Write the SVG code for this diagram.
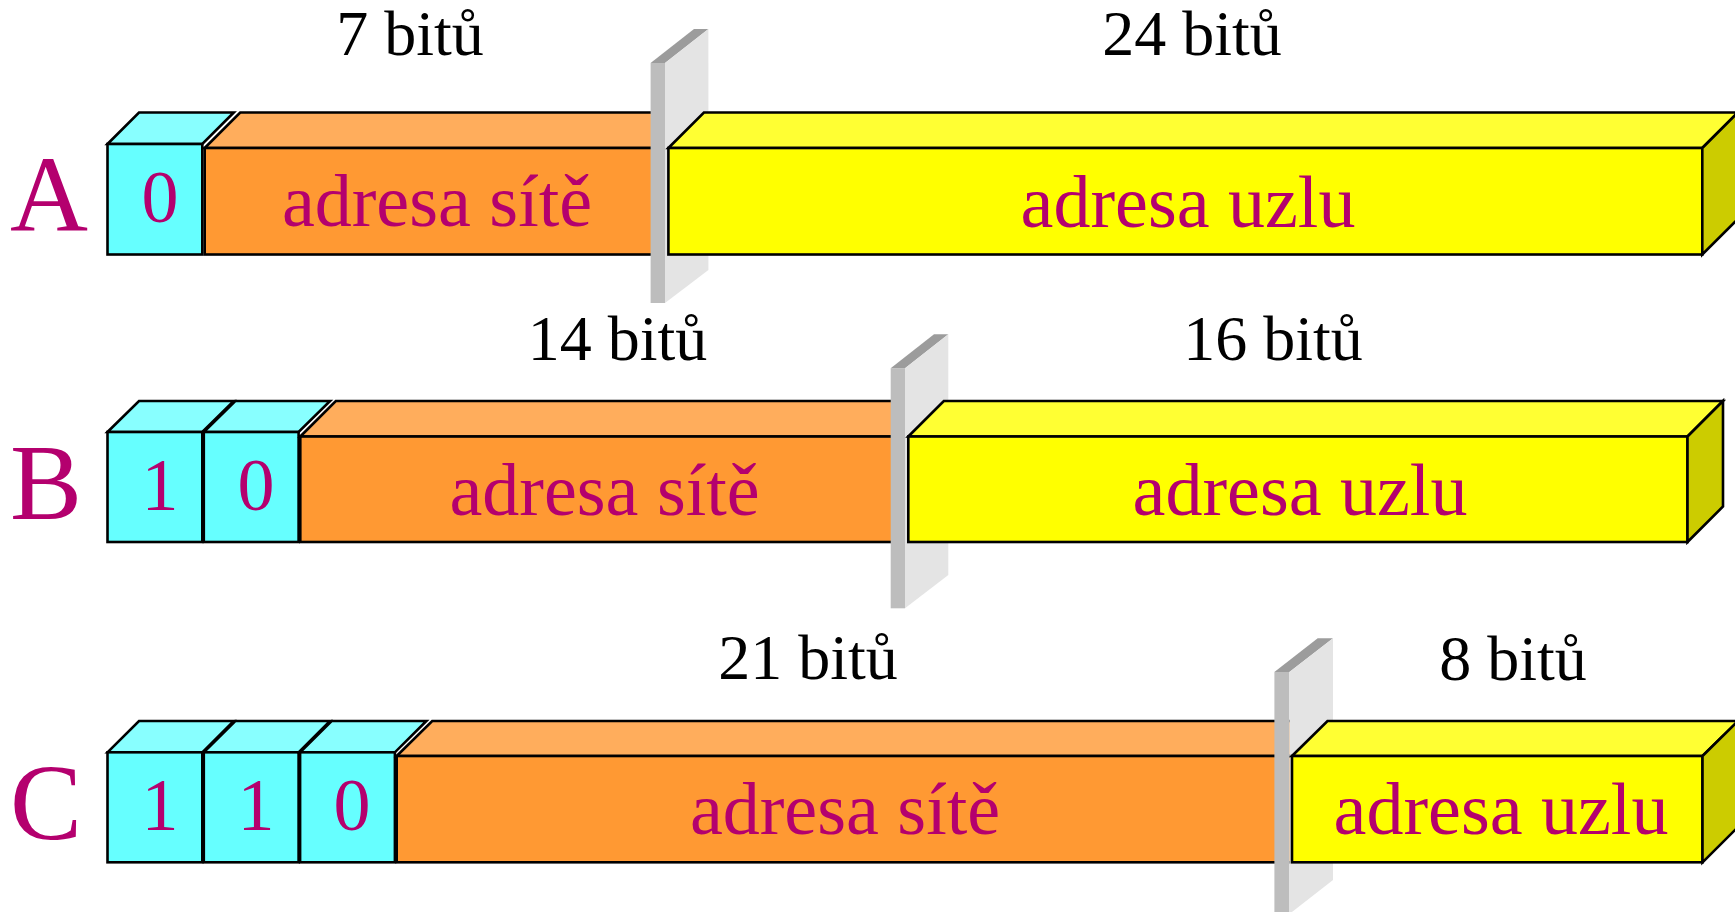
<svg xmlns="http://www.w3.org/2000/svg" width="1735" height="912" viewBox="0 0 1735 912">
<style>
.st{stroke:#000;stroke-width:2.6;stroke-linejoin:miter}
.cf{fill:#66FFFF}.ct{fill:#88FFFF}
.of{fill:#FF9933}.ot{fill:#FFAD5C}
.yf{fill:#FFFF00}.yt{fill:#FFFF33}.ys{fill:#CCCC00}
.bs{fill:#BDBDBD}.bt{fill:#9C9C9C}.bp{fill:#E4E4E4}
.m{font-family:"Liberation Serif","Times New Roman",serif;fill:#B4006E}
.lbl{font-size:108px}
.txt{font-size:74px;text-anchor:middle}
.bits{font-family:"Liberation Serif","Times New Roman",serif;font-size:64px;fill:#000;text-anchor:middle}
</style>
<rect width="1735" height="912" fill="#fff"/>

<g id="rowA">
  <text class="m lbl" x="10" y="231">A</text>
  <text class="bits" x="410" y="55">7 bitů</text>
  <text class="bits" x="1192" y="55">24 bitů</text>
  <g id="A-bit0">
    <polygon class="ct st" points="107.5,144 139,112.5 233.8,112.5 202.3,144"/>
    <rect class="cf st" x="107.5" y="144" width="94.8" height="110.5"/>
    <text class="m txt" x="160" y="222">0</text>
  </g>
  <g id="A-net">
    <polygon class="ot st" points="204.7,148 240.2,112.5 690,112.5 690,148"/>
    <rect class="of st" x="204.7" y="148" width="485" height="106.5"/>
    <text class="m txt" x="437" y="226">adresa sítě</text>
  </g>
  <g id="A-divider">
    <rect class="bs" x="650.6" y="63" width="14.4" height="240"/>
    <polygon class="bt" points="650.6,63 694,29 708.4,29 665,63"/>
    <polygon class="bp" points="665,63 708.4,29 708.4,270 665,303"/>
  </g>
  <g id="A-host">
    <polygon class="yt st" points="668.4,148 703.9,112.5 1737.8,112.5 1702.3,148"/>
    <rect class="yf st" x="668.4" y="148" width="1033.9" height="106.5"/>
    <polygon class="ys st" points="1702.3,148 1737.8,112.5 1737.8,219 1702.3,254.5"/>
    <text class="m txt" x="1188" y="226.5">adresa uzlu</text>
  </g>
</g>

<g id="rowB">
  <text class="m lbl" x="10" y="519">B</text>
  <text class="bits" x="617.5" y="359.5">14 bitů</text>
  <text class="bits" x="1273" y="359.5">16 bitů</text>
  <g id="B-bit0">
    <polygon class="ct st" points="107.5,432 139,401 233.8,401 202.3,432"/>
    <rect class="cf st" x="107.5" y="432" width="94.8" height="110"/>
    <text class="m txt" x="160" y="510">1</text>
  </g>
  <g id="B-bit1">
    <polygon class="ct st" points="203.8,432 235.3,401 330.1,401 298.6,432"/>
    <rect class="cf st" x="203.8" y="432" width="94.8" height="110"/>
    <text class="m txt" x="256" y="510">0</text>
  </g>
  <g id="B-net">
    <polygon class="ot st" points="300.3,436.5 335.8,401 930,401 930,436.5"/>
    <rect class="of st" x="300.3" y="436.5" width="630" height="105.5"/>
    <text class="m txt" x="604.6" y="514.5">adresa sítě</text>
  </g>
  <g id="B-divider">
    <rect class="bs" x="890.7" y="368.3" width="14.3" height="240"/>
    <polygon class="bt" points="890.7,368.3 934,334.3 948.3,334.3 905,368.3"/>
    <polygon class="bp" points="905,368.3 948.3,334.3 948.3,575 905,608.3"/>
  </g>
  <g id="B-host">
    <polygon class="yt st" points="908.3,436.5 943.8,401 1723,401 1687.5,436.5"/>
    <rect class="yf st" x="908.3" y="436.5" width="779.2" height="105.5"/>
    <polygon class="ys st" points="1687.5,436.5 1723,401 1723,506.5 1687.5,542"/>
    <text class="m txt" x="1300" y="514.5">adresa uzlu</text>
  </g>
</g>

<g id="rowC">
  <text class="m lbl" x="10" y="839">C</text>
  <text class="bits" x="808" y="679">21 bitů</text>
  <text class="bits" x="1513" y="680">8 bitů</text>
  <g id="C-bit0">
    <polygon class="ct st" points="107.5,752.3 139,721 233.8,721 202.3,752.3"/>
    <rect class="cf st" x="107.5" y="752.3" width="94.8" height="110"/>
    <text class="m txt" x="160" y="830">1</text>
  </g>
  <g id="C-bit1">
    <polygon class="ct st" points="203.8,752.3 235.3,721 330.1,721 298.6,752.3"/>
    <rect class="cf st" x="203.8" y="752.3" width="94.8" height="110"/>
    <text class="m txt" x="256" y="830">1</text>
  </g>
  <g id="C-bit2">
    <polygon class="ct st" points="300.1,752.3 331.6,721 426.4,721 394.9,752.3"/>
    <rect class="cf st" x="300.1" y="752.3" width="94.8" height="110"/>
    <text class="m txt" x="352" y="830">0</text>
  </g>
  <g id="C-net">
    <polygon class="ot st" points="396.7,756 432.2,721 1300,721 1300,756"/>
    <rect class="of st" x="396.7" y="756" width="903.3" height="106.3"/>
    <text class="m txt" x="845" y="833.5">adresa sítě</text>
  </g>
  <g id="C-divider">
    <rect class="bs" x="1274.4" y="672" width="15" height="245"/>
    <polygon class="bt" points="1274.4,672 1317.7,638.3 1333,638.3 1289.4,672"/>
    <polygon class="bp" points="1289.4,672 1333,638.3 1333,880 1289.4,914"/>
  </g>
  <g id="C-host">
    <polygon class="yt st" points="1292,756 1327.5,721 1738,721 1702.5,756"/>
    <rect class="yf st" x="1292" y="756" width="410.5" height="106.3"/>
    <polygon class="ys st" points="1702.5,756 1738,721 1738,827 1702.5,862.3"/>
    <text class="m txt" x="1501" y="833.5">adresa uzlu</text>
  </g>
</g>

<g id="connectors"></g>
</svg>
